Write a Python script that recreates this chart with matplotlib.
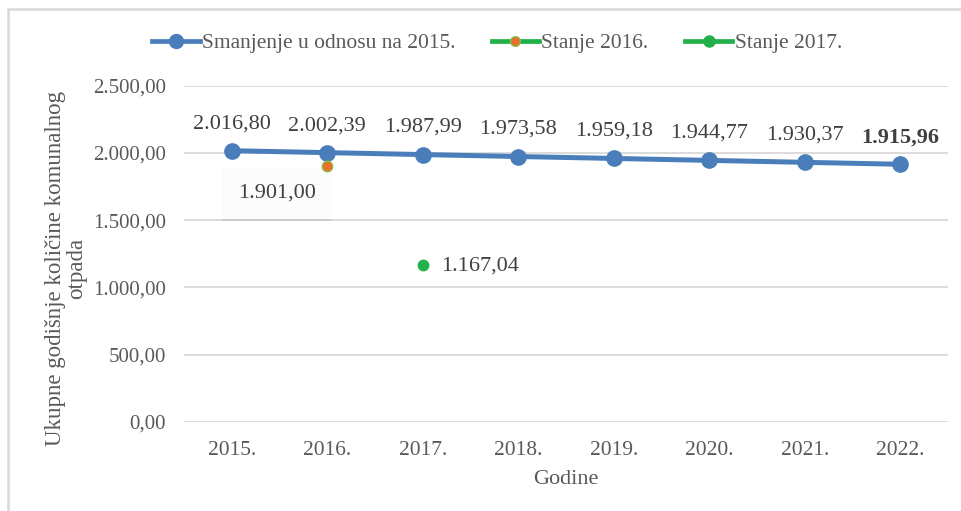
import matplotlib
matplotlib.use("Agg")
import matplotlib.pyplot as plt
from matplotlib.patches import Rectangle
from matplotlib.lines import Line2D
import matplotlib.patheffects as pe

plt.rcParams['font.family'] = ['Liberation Serif', 'DejaVu Serif']

years = ["2015.", "2016.", "2017.", "2018.", "2019.", "2020.", "2021.", "2022."]
reduction = [2016.80, 2002.39, 1987.99, 1973.58, 1959.18, 1944.77, 1930.37, 1915.96]
stanje_2016_idx = 1
stanje_2016 = 1901.00
stanje_2017_idx = 2
stanje_2017 = 1167.04
yticks = [0, 500, 1000, 1500, 2000, 2500]

BLUE = '#4a7ebb'
ORANGE = '#e8702a'
GREEN = '#22b04b'
GRID = '#d9d9d9'
TXT = '#404040'
TICK = '#595959'

def fmt(v):
    s = f"{v:,.2f}"
    return s.replace(',', 'X').replace('.', ',').replace('X', '.')

fig = plt.figure(figsize=(9.61, 5.11), dpi=100)
ax = fig.add_axes([184/961, 1-422/511, (948-184)/961, (422-85.7)/511])

x = list(range(len(years)))
ax.plot(x, reduction, color=BLUE, lw=3.6, marker='o', ms=11,
        solid_capstyle='round', zorder=3, label='Smanjenje u odnosu na 2015.')
ax.plot([stanje_2016_idx], [stanje_2016], color=GREEN, lw=3, marker='o', ms=7.5,
        mfc=ORANGE, mec='#8dbb4a', mew=1, linestyle='None', zorder=4)
ax.plot([stanje_2017_idx], [stanje_2017], color=GREEN, lw=3, marker='o', ms=7.5,
        mfc=GREEN, mec=GREEN, linestyle='None', zorder=4)

for i, v in enumerate(reduction):
    ax.annotate(fmt(v), (i, v), xytext=(0, 19.5), textcoords='offset points',
                ha='center', va='center', fontsize=16, color=TXT,
                fontweight='bold' if i == len(reduction) - 1 else 'normal')

t = ax.annotate(fmt(stanje_2016), (stanje_2016_idx, stanje_2016), xytext=(-36, -19.5),
                textcoords='offset points', ha='center', va='center',
                fontsize=16, color=TXT,
                bbox=dict(boxstyle='square,pad=0.72', fc='#fcfcfc', ec='none'))
t.get_bbox_patch().set_path_effects([pe.withSimplePatchShadow(offset=(0, -1.5),
                                      shadow_rgbFace='#c8c8c8', alpha=0.8)])
ax.annotate(fmt(stanje_2017), (stanje_2017_idx, stanje_2017), xytext=(13, -1),
            textcoords='offset points', ha='left', va='center',
            fontsize=16, color=TXT)

ax.set_xlim(-0.5, len(years) - 0.5)
ax.set_ylim(0, 2500)
ax.set_yticks(yticks)
ax.set_yticklabels([fmt(v) for v in yticks])
ax.set_xticks(x)
ax.set_xticklabels(years)
ax.tick_params(axis='both', length=0, labelcolor=TICK)
ax.tick_params(axis='y', pad=13, labelsize=15)
ax.tick_params(axis='x', pad=14, labelsize=15.5)
ax.grid(axis='y', color=GRID, lw=1.3)
ax.set_axisbelow(True)
for s in ax.spines.values():
    s.set_visible(False)

ax.set_xlabel('Godine', fontsize=16, color=TICK, labelpad=7)
ax.set_ylabel('Ukupne godišnje količine komunalnog\notpada', fontsize=16.5,
              color=TICK, linespacing=1.0)
ax.yaxis.set_label_coords(-0.127, 0.457)

handles = [
    Line2D([], [], color=BLUE, lw=3.4, marker='o', ms=10),
    Line2D([], [], color=GREEN, lw=3.4, marker='o', ms=7, mfc=ORANGE, mec='#8dbb4a'),
    Line2D([], [], color=GREEN, lw=3.4, marker='o', ms=8, mfc=GREEN, mec=GREEN),
]
labels = ['Smanjenje u odnosu na 2015.', 'Stanje 2016.', 'Stanje 2017.']
fig.legend(handles, labels, loc='center', bbox_to_anchor=(497/961, 1-43/511), ncol=3,
           frameon=False, fontsize=15.5, handlelength=2.2, handletextpad=0.1,
           columnspacing=1.7, labelcolor=TICK)

fig.add_artist(Rectangle((7.5/961, -0.05), 1.1, 1.05 - 9.5/511, transform=fig.transFigure,
                         fill=False, ec=GRID, lw=1.8))

fig.savefig('out.png', dpi=100)
